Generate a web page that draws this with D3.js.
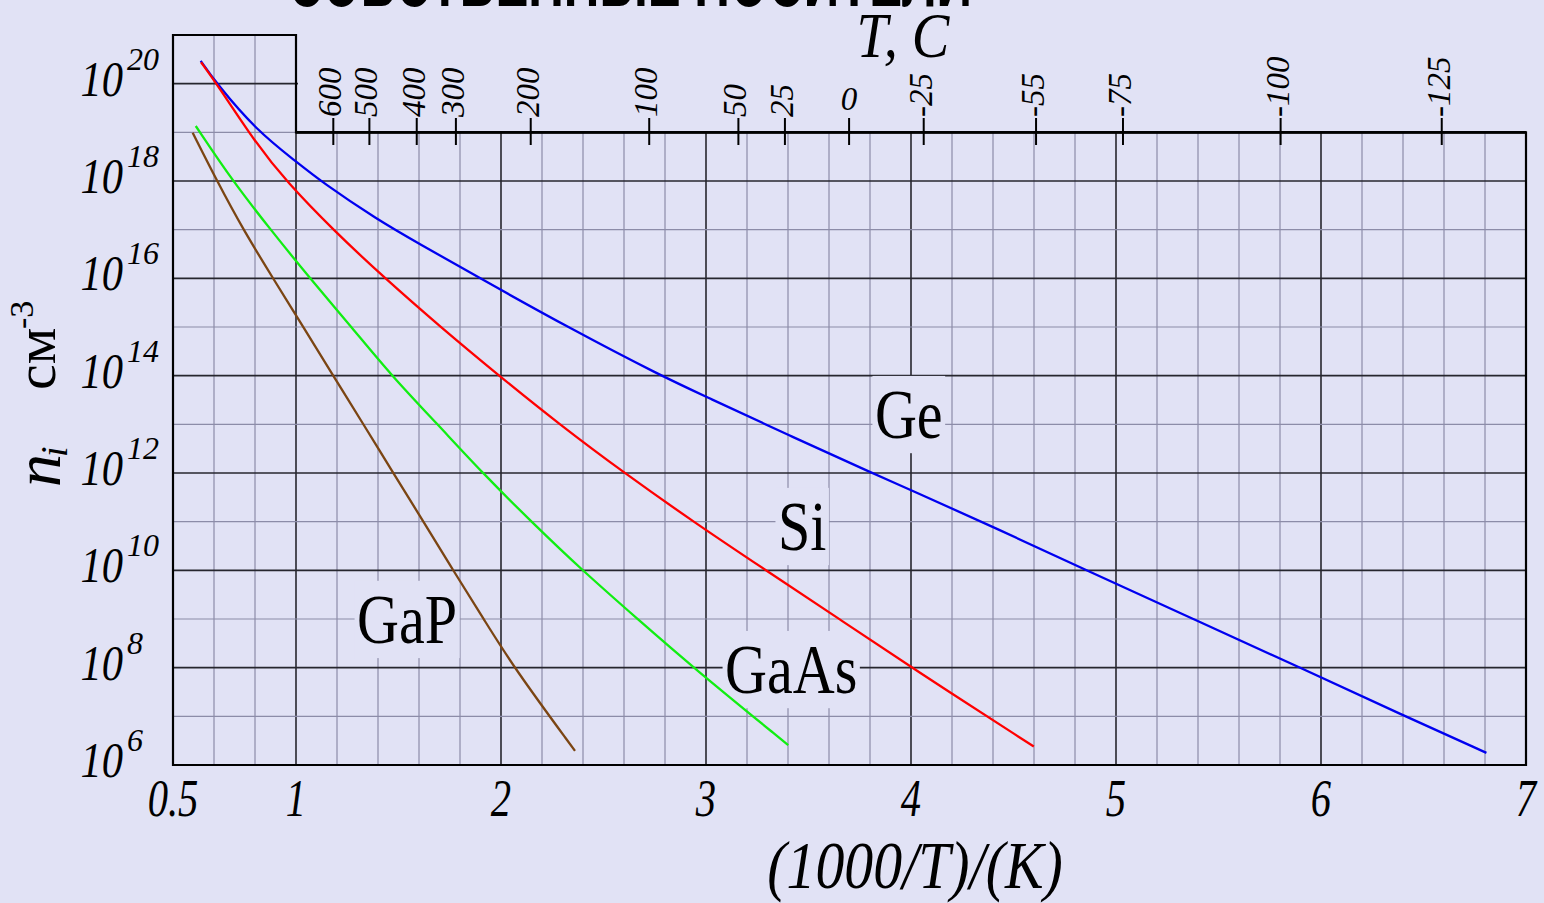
<!DOCTYPE html>
<html>
<head>
<meta charset="utf-8">
<script src="https://cdn.jsdelivr.net/npm/d3@7"></script>
<style>
  html, body { margin: 0; padding: 0; background: #e1e2f5; }
  svg { display: block; }
  text { font-family: "Liberation Serif", "Times New Roman", serif; fill: #000; }
</style>
</head>
<body>
<script>
// curves: [1000/T, log10(n_i)]
const ge = [
    [0.535, 20.47], [0.613, 20.0], [0.805, 19.05], [1.0, 18.40], [1.125, 17.98],
    [1.399, 17.20], [1.597, 16.72], [1.898, 16.0], [2.337, 14.97], [2.784, 13.99],
    [3.0, 13.57], [3.401, 12.78], [3.816, 11.99], [4.0, 11.65], [4.418, 10.86],
    [4.86, 9.99], [5.377, 9.0], [5.894, 8.01], [6.405, 7.01], [6.807, 6.25]
];
const si = [
    [0.537, 20.44], [0.613, 20.0], [0.805, 18.77], [0.955, 17.98], [1.182, 16.99],
    [1.434, 16.0], [1.705, 15.0], [1.993, 13.99], [2.288, 12.99], [2.605, 11.99],
    [2.938, 11.0], [3.296, 9.99], [3.654, 8.99], [4.003, 8.0], [4.599, 6.38]
];
const gaas = [
    [0.511, 19.13], [0.694, 17.98], [0.878, 16.99], [1.068, 16.0], [1.273, 14.99],
    [1.468, 13.99], [1.693, 12.99], [1.912, 11.99], [2.148, 11.0], [2.399, 9.99],
    [2.669, 8.99], [2.938, 8.0], [3.401, 6.41]
];
const gap = [
    [0.496, 18.99], [0.617, 17.98], [0.744, 16.99], [0.888, 16.0], [1.037, 14.99],
    [1.183, 13.99], [1.329, 13.0], [1.476, 11.99], [1.622, 11.0], [1.768, 9.99],
    [1.917, 8.99], [2.063, 8.0], [2.361, 6.29]
];

const seriesNames  = ["Ge", "Si", "GaAs", "GaP"];
const seriesColors = ["#0000f0", "#ff0000", "#11ee11", "#7b4513"];
// where each name sits: [1000/T, log10 n] of the text start / baseline
const labelSpots   = [[3.824, 12.72], [3.351, 10.42], [3.093, 7.48], [1.298, 8.51]];

// bottom axis (the first tick at the left edge is printed as 0.5)
const xTickValues = [0.4, 1, 2, 3, 4, 5, 6, 7];
const xTickLabels = ["0.5", "1", "2", "3", "4", "5", "6", "7"];

// left axis: powers of ten
const yTickExps = [6, 8, 10, 12, 14, 16, 18, 20];

// top axis: temperature in C, placed at these 1000/T positions
const tempLabels    = ["600", "500", "400", "300", "200", "100", "50", "25", "0", "-25", "-55", "-75", "-100", "-125"];
const tempPositions = [1.182, 1.358, 1.589, 1.780, 2.145, 2.723, 3.158, 3.385, 3.698, 4.062, 4.610, 5.034, 5.803, 6.589];

const width = 1544, height = 903;
const bg = "#e1e2f5";

const x = d3.scaleLinear().domain([0.4, 7]).range([173, 1526]);
const y = d3.scaleLog().domain([1e6, 1e21]).range([765, 35]);
const yE = e => y(Math.pow(10, e));

const svg = d3.select("body").append("svg")
    .attr("width", width)
    .attr("height", height);

svg.append("rect").attr("width", width).attr("height", height).attr("fill", bg);

// heading cut by the top edge (only the foot of the letters shows)
svg.append("text")
    .attr("x", 288).attr("y", 6)
    .attr("textLength", 684).attr("lengthAdjust", "spacingAndGlyphs")
    .style("font-family", "'Liberation Sans', Arial, sans-serif")
    .style("font-weight", "bold")
    .style("font-size", "80px")
    .text("СОБСТВЕННЫЕ НОСИТЕЛИ");

// ---- grid
const grid = svg.append("g");
const vLines = d3.range(3, 35).map(i => i / 5);
const isInt = d => Math.abs(d - Math.round(d)) < 1e-6;
grid.selectAll("line.v").data(vLines).join("line")
    .attr("x1", d => x(d)).attr("x2", d => x(d))
    .attr("y1", y(1e6))
    .attr("y2", d => d < 1 ? y(1e21) : y(1e19))
    .attr("stroke", d => isInt(d) ? "#26262e" : "#8c8ca8")
    .attr("stroke-width", d => isInt(d) ? 1.6 : 1.2);

const hLines = d3.range(7, 21);
grid.selectAll("line.h").data(hLines).join("line")
    .attr("x1", x(0.4))
    .attr("x2", d => d > 19 ? x(1) + 2 : x(7))
    .attr("y1", d => yE(d)).attr("y2", d => yE(d))
    .attr("stroke", d => d % 2 === 0 ? "#26262e" : "#8c8ca8")
    .attr("stroke-width", d => d % 2 === 0 ? 1.6 : 1.2);

// frame
svg.append("path")
    .attr("d", `M${x(0.4)},${y(1e6)}V${y(1e21)}H${x(1)}V${y(1e19)}H${x(7)}V${y(1e6)}Z`)
    .attr("fill", "none").attr("stroke", "#000").attr("stroke-width", 2.2);
svg.append("line")
    .attr("x1", x(1)).attr("x2", x(7)).attr("y1", y(1e19)).attr("y2", y(1e19))
    .attr("stroke", "#000").attr("stroke-width", 2.8);

// ---- top temperature axis
const topAxis = svg.append("g");
topAxis.selectAll("line").data(tempPositions).join("line")
    .attr("x1", d => x(d)).attr("x2", d => x(d))
    .attr("y1", 118).attr("y2", 145)
    .attr("stroke", "#000").attr("stroke-width", 2);
topAxis.selectAll("text").data(tempLabels).join("text")
    .attr("transform", (d, i) => d === "0"
        ? `translate(${x(tempPositions[i])},110)`
        : `translate(${x(tempPositions[i]) + 8},117) rotate(-90)`)
    .attr("text-anchor", d => d === "0" ? "middle" : "start")
    .style("font-style", "italic")
    .style("font-size", "33px")
    .text(d => d);

svg.append("text")
    .attr("transform", "translate(903,57) scale(0.88,1)")
    .attr("text-anchor", "middle")
    .style("font-style", "italic").style("font-size", "64px")
    .text("T, C");

// ---- bottom axis
svg.append("g").selectAll("text").data(xTickValues).join("text")
    .attr("transform", d => `translate(${x(d)},816) scale(0.78,1)`)
    .attr("text-anchor", "middle")
    .style("font-style", "italic").style("font-size", "52px")
    .text((d, i) => xTickLabels[i]);

svg.append("text")
    .attr("transform", "translate(915,888) scale(0.85,1)")
    .attr("text-anchor", "middle")
    .style("font-style", "italic").style("font-size", "68px")
    .text("(1000/T)/(K)");

// ---- left axis
const yl = svg.append("g");
yl.selectAll("text.base").data(yTickExps).join("text")
    .attr("class", "base")
    .attr("transform", d => `translate(123,${yE(d) + 12}) scale(0.85,1)`)
    .attr("text-anchor", "end")
    .style("font-style", "italic").style("font-size", "50px")
    .text("10");
yl.selectAll("text.exp").data(yTickExps).join("text")
    .attr("class", "exp")
    .attr("transform", d => `translate(127,${yE(d) - 14})`)
    .style("font-style", "italic").style("font-size", "32px")
    .text(d => d);

const yTitle = svg.append("g");
yTitle.append("text")
    .attr("transform", "translate(60,487) rotate(-90)")
    .style("font-style", "italic").style("font-size", "66px")
    .text("n");
yTitle.append("text")
    .attr("transform", "translate(67,457) rotate(-90)")
    .style("font-style", "italic").style("font-size", "38px")
    .text("i");
yTitle.append("text")
    .attr("transform", "translate(55,390) rotate(-90)")
    .style("font-size", "58px")
    .text("см");
yTitle.append("text")
    .attr("transform", "translate(33,329) rotate(-90)")
    .style("font-size", "34px")
    .text("-3");

// ---- curve labels: boxes under curves, text over them
const boxLayer = svg.append("g");
const curveLayer = svg.append("g");
const textLayer = svg.append("g");

const labelTransform = i => `translate(${x(labelSpots[i][0])},${yE(labelSpots[i][1])}) scale(0.83,1)`;
textLayer.selectAll("text").data(seriesNames).join("text")
    .attr("transform", (d, i) => labelTransform(i))
    .style("font-size", "70px")
    .text(d => d)
    .each(function (d, i) {
        const b = this.getBBox();
        boxLayer.append("rect")
            .attr("transform", labelTransform(i))
            .attr("x", b.x - 3).attr("y", b.y)
            .attr("width", b.width + 6).attr("height", b.height)
            .attr("fill", bg);
    });

const line = d3.line()
    .x(d => x(d[0]))
    .y(d => yE(d[1]))
    .curve(d3.curveBasis);

curveLayer.selectAll("path").data([ge, si, gaas, gap]).join("path")
    .attr("d", line)
    .attr("fill", "none")
    .attr("stroke", (d, i) => seriesColors[i])
    .attr("stroke-width", 2.3);
</script>
</body>
</html>
